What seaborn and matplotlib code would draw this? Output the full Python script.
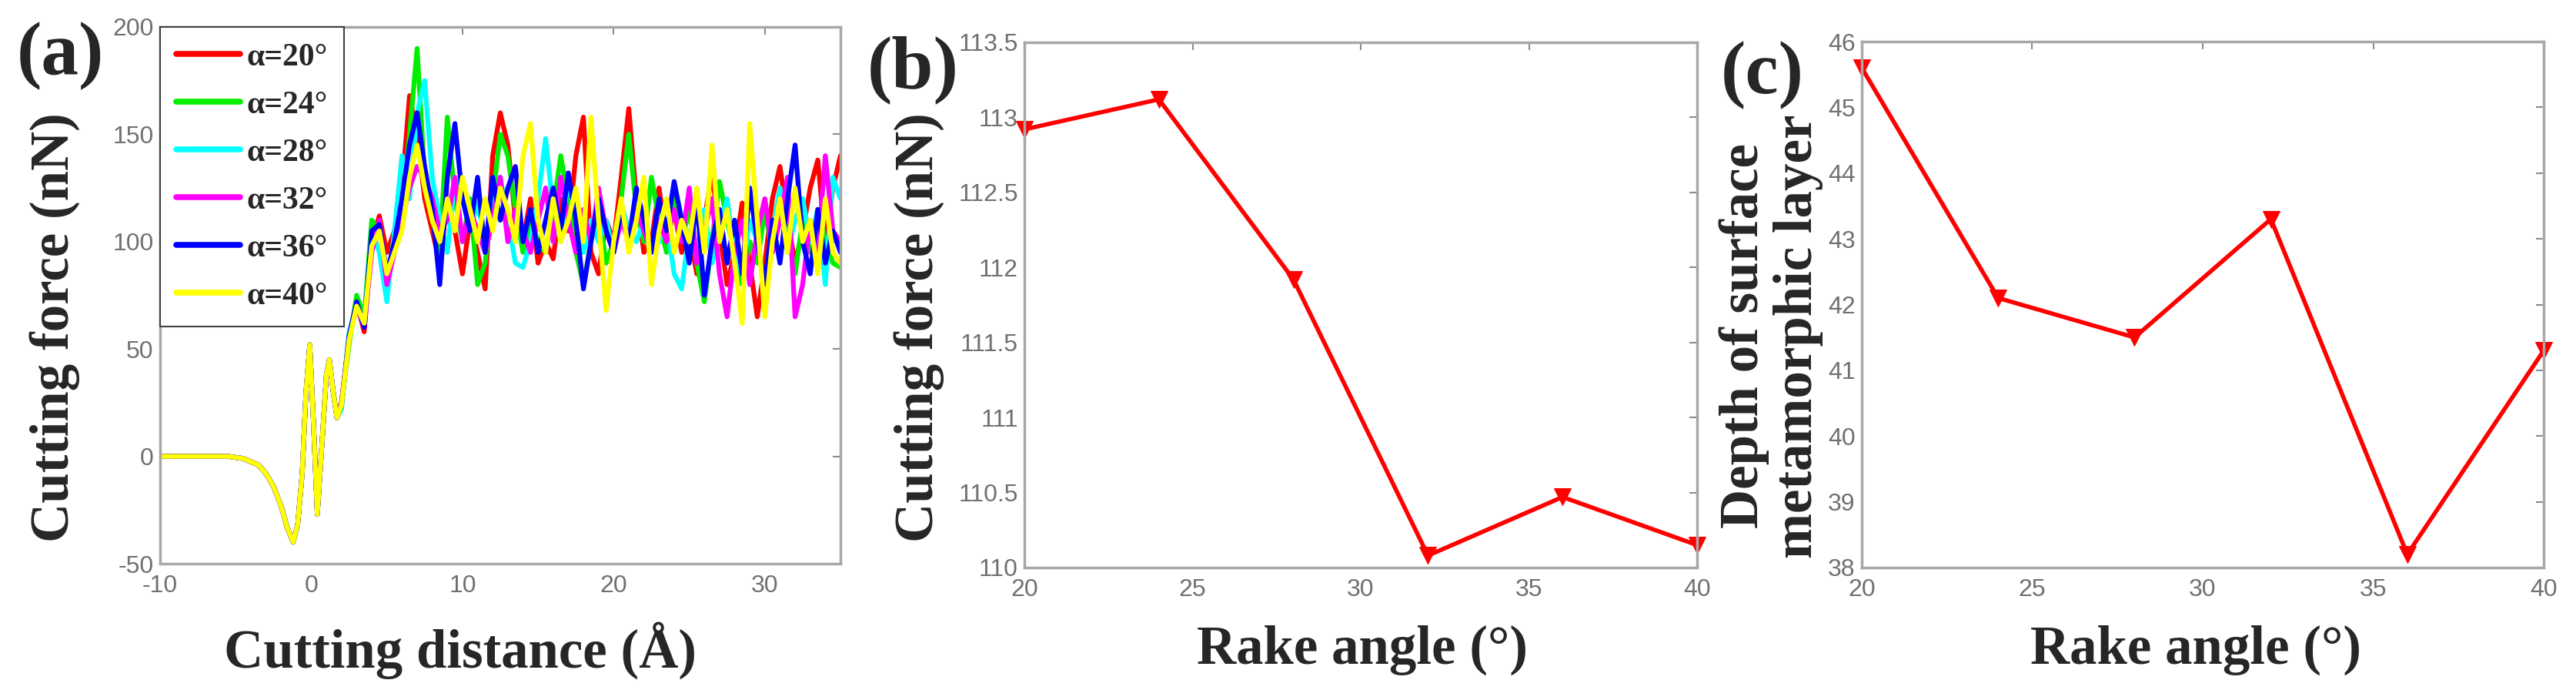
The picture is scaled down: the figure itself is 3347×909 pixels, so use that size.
import numpy as np
import pandas as pd
import matplotlib
matplotlib.use("Agg")
import matplotlib.pyplot as plt
from matplotlib.ticker import FuncFormatter
import seaborn as sns

# ---- data ----
angle_labels = ["α=20°", "α=24°", "α=28°", "α=32°", "α=36°", "α=40°"]
angle_colors = ["#ff0000", "#00ee00", "#00ffff", "#ff00ff", "#0000ff", "#ffff00"]

# shared approach segment (all curves coincide before contact)
approach_x = [-10, -7, -5.5, -4.5, -3.5, -3, -2.5, -2, -1.6, -1.2, -0.9, -0.6,
              -0.35, -0.1, 0.15, 0.4, 0.7, 1.0, 1.2, 1.45, 1.7]
approach_f = [0, 0, 0, -1, -4, -8, -14, -23, -33, -40, -32, -8,
              30, 52, 15, -27, 5, 38, 45, 30, 18]

# cutting segment, x = 2.0 .. 35.0 every 0.5 A
cut_x = np.arange(2.0, 35.01, 0.5)
f20 = [25, 55, 72, 58, 100, 112, 95, 105, 125, 168,
       150, 120, 105, 90, 120, 105, 85, 110, 95, 78,
       140, 160, 145, 110, 100, 120, 90, 100, 92, 120,
       105, 140, 158, 95, 85, 110, 100, 130, 162, 120,
       95, 100, 125, 100, 115, 95, 105, 85, 110, 132,
       105, 80, 95, 118, 90, 65, 90, 120, 135, 110,
       90, 105, 125, 138, 100, 125, 140]
f24 = [25, 52, 75, 65, 110, 105, 85, 95, 115, 150,
       190, 130, 110, 95, 158, 120, 100, 120, 80, 90,
       120, 150, 140, 115, 95, 110, 100, 95, 115, 140,
       120, 95, 80, 100, 115, 90, 100, 120, 150, 115,
       100, 130, 110, 95, 120, 100, 115, 90, 72, 100,
       128, 110, 95, 80, 100, 90, 115, 95, 120, 105,
       85, 110, 95, 115, 100, 90, 88]
f28 = [22, 58, 70, 62, 105, 95, 72, 105, 140, 120,
       160, 175, 130, 110, 95, 130, 120, 105, 118, 100,
       115, 130, 110, 90, 88, 100, 120, 148, 115, 100,
       130, 110, 95, 110, 100, 110, 95, 118, 105, 100,
       110, 95, 100, 110, 85, 78, 105, 95, 115, 90,
       105, 120, 95, 85, 110, 100, 80, 105, 125, 95,
       110, 120, 100, 115, 80, 130, 120]
f32 = [25, 55, 70, 60, 95, 110, 80, 95, 110, 125,
       135, 130, 120, 105, 110, 130, 100, 115, 105, 95,
       110, 130, 100, 115, 105, 95, 110, 125, 100, 130,
       110, 95, 115, 100, 125, 105, 95, 110, 100, 115,
       105, 95, 110, 100, 115, 100, 125, 90, 105, 120,
       85, 65, 95, 110, 80, 105, 120, 95, 110, 130,
       65, 80, 110, 95, 140, 105, 100]
f36 = [24, 56, 72, 60, 105, 108, 85, 100, 120, 145,
       160, 135, 115, 80, 130, 155, 120, 105, 130, 95,
       130, 110, 125, 135, 100, 115, 95, 110, 125, 105,
       132, 110, 78, 100, 120, 105, 95, 115, 100, 125,
       110, 95, 120, 105, 128, 110, 90, 120, 75, 100,
       115, 90, 110, 85, 125, 100, 80, 110, 90, 120,
       145, 100, 85, 115, 90, 105, 95]
f40 = [24, 54, 70, 62, 98, 105, 85, 95, 105, 130,
       145, 125, 110, 100, 120, 105, 130, 115, 100, 120,
       105, 125, 115, 100, 140, 155, 110, 95, 120, 100,
       110, 125, 100, 158, 110, 68, 100, 120, 95, 110,
       130, 80, 105, 120, 95, 110, 100, 125, 95, 145,
       100, 115, 90, 62, 155, 110, 65, 100, 120, 95,
       125, 100, 110, 85, 120, 95, 90]
force_series = [f20, f24, f28, f32, f36, f40]

rake_angle = [20, 24, 28, 32, 36, 40]
cutting_force = [112.92, 113.12, 111.92, 110.08, 110.47, 110.15]
layer_depth = [45.6, 42.1, 41.5, 43.3, 38.2, 41.3]

# long-form table for panel (a)
frames = []
for lab, f in zip(angle_labels, force_series):
    frames.append(pd.DataFrame({
        "x": np.concatenate([approach_x, cut_x]),
        "force": np.concatenate([approach_f, f]),
        "angle": lab,
    }))
df_a = pd.concat(frames, ignore_index=True)
df_bc = pd.DataFrame({"rake": rake_angle, "force": cutting_force, "depth": layer_depth})

# ---- style ----
sns.set_theme(style="white")
plt.rcParams["font.family"] = ["Liberation Sans", "DejaVu Sans"]
plt.rcParams["axes.unicode_minus"] = False
plt.rcParams["lines.solid_joinstyle"] = "round"

SERIF = "Liberation Serif"
LAB = dict(fontsize=51, fontweight="bold", family=SERIF)
W, H = 3348, 909

fig = plt.figure(figsize=(W / 100, H / 100), dpi=100)
ax_a = fig.add_axes([208 / W, 1 - 732 / H, 884 / W, 697 / H])
ax_b = fig.add_axes([1331 / W, 1 - 737 / H, 874 / W, 682 / H])
ax_c = fig.add_axes([2419 / W, 1 - 737 / H, 886 / W, 683 / H])


def style_axes(ax):
    for s in ax.spines.values():
        s.set_color("#a8a8a8")
        s.set_linewidth(2.5)
    ax.tick_params(direction="in", length=7, width=1.5, color="#8c8c8c",
                   top=True, right=True, labelsize=23, labelcolor="#707070")
    ax.tick_params(axis="x", pad=10)
    ax.tick_params(axis="y", pad=6)
    ax.xaxis.set_major_formatter(FuncFormatter(lambda v, p: f"{v:g}"))
    ax.yaxis.set_major_formatter(FuncFormatter(lambda v, p: f"{v:g}"))


# (a) force vs distance
sns.lineplot(data=df_a, x="x", y="force", hue="angle", palette=angle_colors,
             estimator=None, sort=False, lw=4.5, ax=ax_a)
ax_a.set_xlim(-10, 35)
ax_a.set_ylim(-50, 200)
ax_a.set_xticks([-10, 0, 10, 20, 30])
ax_a.set_yticks([-50, 0, 50, 100, 150, 200])
handles, labels = ax_a.get_legend_handles_labels()
leg = ax_a.legend(handles, labels, loc="upper left", bbox_to_anchor=(0, 1),
                  borderaxespad=0, frameon=True, fancybox=False, framealpha=1,
                  edgecolor="#404040", handlelength=2.0, handletextpad=0.2,
                  borderpad=0.5, labelspacing=0.57,
                  prop=dict(family=SERIF, weight="bold", size=30))
leg.get_frame().set_linewidth(1.5)
for h in leg.get_lines():
    h.set_linewidth(5.5)
ax_a.set_xlabel("Cutting distance (Å)", va="center", **LAB)
ax_a.set_ylabel("Cutting force (nN)", va="center", **LAB)
ax_a.xaxis.set_label_coords(0.441, -0.162)
ax_a.yaxis.set_label_coords(-0.155, 0.44)
style_axes(ax_a)

# (b) cutting force vs rake angle
sns.lineplot(data=df_bc, x="rake", y="force", color="#ff0000", lw=4,
             marker="v", markersize=16, markeredgecolor="#ff0000", ax=ax_b)
ax_b.set_xlim(20, 40)
ax_b.set_ylim(110, 113.5)
ax_b.set_xticks([20, 25, 30, 35, 40])
ax_b.set_yticks(np.arange(110, 113.51, 0.5))
ax_b.set_xlabel("Rake angle (°)", va="center", **LAB)
ax_b.set_ylabel("Cutting force (nN)", va="center", **LAB)
ax_b.xaxis.set_label_coords(0.502, -0.157)
ax_b.yaxis.set_label_coords(-0.157, 0.458)
style_axes(ax_b)

# (c) depth of metamorphic layer vs rake angle
sns.lineplot(data=df_bc, x="rake", y="depth", color="#ff0000", lw=4,
             marker="v", markersize=16, markeredgecolor="#ff0000", ax=ax_c)
ax_c.set_xlim(20, 40)
ax_c.set_ylim(38, 46)
ax_c.set_xticks([20, 25, 30, 35, 40])
ax_c.set_yticks(range(38, 47))
ax_c.set_xlabel("Rake angle (°)", va="center", **LAB)
ax_c.set_ylabel("Depth of surface\nmetamorphic layer", va="center",
                linespacing=1.1, **LAB)
ax_c.xaxis.set_label_coords(0.49, -0.157)
ax_c.yaxis.set_label_coords(-0.133, 0.44)
style_axes(ax_c)

for ax in (ax_b, ax_c):
    for ln in ax.get_lines():
        ln.set_clip_on(False)

# panel tags
for tx, ty, tag in [(22, 28, "(a)"), (1127, 46, "(b)"), (2236, 53, "(c)")]:
    fig.text(tx / W, 1 - ty / H, tag, ha="left", va="top",
             fontsize=70, fontweight="bold", family=SERIF)

fig.savefig("out.png", dpi=100)
